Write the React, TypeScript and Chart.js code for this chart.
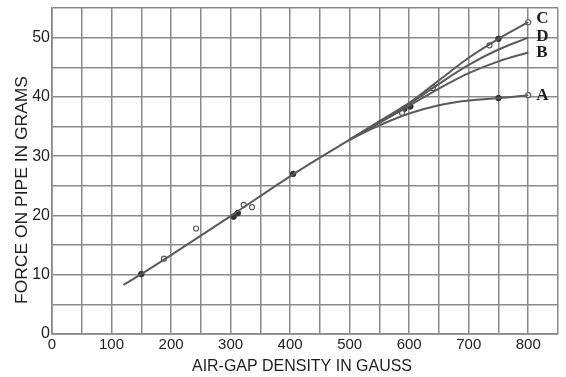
import React, { useEffect, useRef } from "react";
import { Chart, registerables } from "chart.js";

Chart.register(...registerables);

// Shared straight part of the curve (gauss, grams)
const mainX = [120, 150, 200, 300, 400, 500];
const mainY = [8.3, 10.1, 13.3, 19.9, 26.6, 32.8];

// Branches A-D
const curveX = [500, 550, 600, 650, 700, 750, 800];
const curveA = [32.8, 35.2, 37.2, 38.6, 39.4, 39.8, 40.3];
const curveB = [32.8, 35.6, 38.5, 41.4, 44.0, 46.0, 47.5];
const curveC = [32.8, 35.9, 39.0, 42.8, 46.6, 49.8, 52.6];
const curveD = [32.8, 35.8, 38.8, 42.2, 45.4, 48.0, 50.0];
const curveNames = ["A", "B", "C", "D"];

// Observed points
const openX = [188, 242, 322, 336, 588, 640, 735, 800, 800];
const openY = [12.7, 17.8, 21.8, 21.4, 37.3, 41.5, 48.7, 52.6, 40.3];
const filledX = [150, 305, 312, 405, 592, 602, 750, 750];
const filledY = [10.1, 19.8, 20.4, 27.0, 38.0, 38.4, 49.8, 39.8];

// Axis ticks/titles
const xMax = 850;
const xStep = 50;
const xLabelEvery = 100;
const yMax = 55;
const yStep = 5;
const yLabelEvery = 10;
const xTitle = "AIR-GAP DENSITY IN GAUSS";
const yTitle = "FORCE ON PIPE IN GRAMS";

const GRID = "#8a8a8a";
const LINE = "#5a5a5a";
const INK = "#1e1e1e";

const toPts = (xs: number[], ys: number[]) => xs.map((x, i) => ({ x, y: ys[i] }));

export default function App() {
  const ref = useRef<HTMLCanvasElement | null>(null);

  useEffect(() => {
    if (!ref.current) return;
    const curves = [curveA, curveB, curveC, curveD];

    const annotate = {
      id: "annotate",
      afterDraw(chart: any) {
        const ctx = chart.ctx;
        const xs = chart.scales.x;
        const ys = chart.scales.y;
        ctx.save();
        ctx.fillStyle = INK;
        // curve letters
        ctx.font = "bold 17px 'Liberation Serif'";
        ctx.textAlign = "left";
        ctx.textBaseline = "middle";
        const offs: Record<string, number> = { A: 0, B: 0, C: -4, D: -1 };
        curveNames.forEach((n, i) => {
          const arr = curves[i];
          const px = xs.getPixelForValue(curveX[curveX.length - 1]);
          const py = ys.getPixelForValue(arr[arr.length - 1]);
          ctx.fillText(n, px + 8, py + offs[n]);
        });
        // x title
        ctx.font = "17px 'Liberation Sans'";
        ctx.textAlign = "center";
        ctx.textBaseline = "middle";
        let w = ctx.measureText(xTitle).width;
        ctx.save();
        ctx.translate(302, 366);
        ctx.scale(220 / w, 1);
        ctx.fillText(xTitle, 0, 0);
        ctx.restore();
        // y title
        w = ctx.measureText(yTitle).width;
        ctx.save();
        ctx.translate(22, 190);
        ctx.rotate(-Math.PI / 2);
        ctx.scale(228 / w, 1);
        ctx.fillText(yTitle, 0, 0);
        ctx.restore();
        ctx.restore();
      },
    };

    const lineDs = (data: any[]) => ({
      type: "line" as const,
      data,
      borderColor: LINE,
      borderWidth: 2,
      pointRadius: 0,
      cubicInterpolationMode: "monotone" as const,
      fill: false,
    });

    const chart = new Chart(ref.current, {
      type: "line",
      data: {
        datasets: [
          lineDs(toPts(mainX, mainY)),
          lineDs(toPts(curveX, curveA)),
          lineDs(toPts(curveX, curveB)),
          lineDs(toPts(curveX, curveC)),
          lineDs(toPts(curveX, curveD)),
          {
            type: "scatter" as const,
            data: toPts(openX, openY),
            pointRadius: 2.5,
            pointBackgroundColor: "#ffffff",
            pointBorderColor: LINE,
            pointBorderWidth: 1.2,
            showLine: false,
          },
          {
            type: "scatter" as const,
            data: toPts(filledX, filledY),
            pointRadius: 2.8,
            pointBackgroundColor: "#333333",
            pointBorderColor: "#333333",
            showLine: false,
          },
        ] as any,
      },
      options: {
        animation: false,
        responsive: false,
        maintainAspectRatio: false,
        layout: { padding: { top: 8, right: 8, left: 0, bottom: 0 } },
        plugins: { legend: { display: false }, tooltip: { enabled: false } },
        scales: {
          x: {
            type: "linear",
            min: 0,
            max: xMax,
            afterFit: (s: any) => {
              s.height = 43;
              s.paddingLeft = 0;
              s.paddingRight = 0;
            },
            ticks: {
              stepSize: xStep,
              autoSkip: false,
              maxRotation: 0,
              padding: 2,
              color: INK,
              font: { family: "'Liberation Sans'", size: 15 },
              callback: (v: any) => (Number(v) % xLabelEvery === 0 ? String(v) : ""),
            },
            grid: { color: GRID, lineWidth: 1.5, drawTicks: false },
            border: { color: GRID, width: 1.7 },
          },
          y: {
            type: "linear",
            min: 0,
            max: yMax,
            afterFit: (s: any) => {
              s.width = 52;
              s.paddingTop = 0;
              s.paddingBottom = 0;
            },
            ticks: {
              stepSize: yStep,
              autoSkip: false,
              padding: 2,
              color: INK,
              font: { family: "'Liberation Sans'", size: 16 },
              callback: (v: any) => (Number(v) % yLabelEvery === 0 ? String(v) : ""),
            },
            grid: { color: GRID, lineWidth: 1.5, drawTicks: false },
            border: { color: GRID, width: 1.7 },
          },
        },
      },
      plugins: [annotate],
    } as any);

    return () => chart.destroy();
  }, []);

  return (
    <div style={{ position: "fixed", left: 0, top: 0, width: 566, height: 377, background: "#ffffff" }}>
      <canvas ref={ref} width={566} height={377} style={{ width: 566, height: 377, display: "block" }} />
    </div>
  );
}
